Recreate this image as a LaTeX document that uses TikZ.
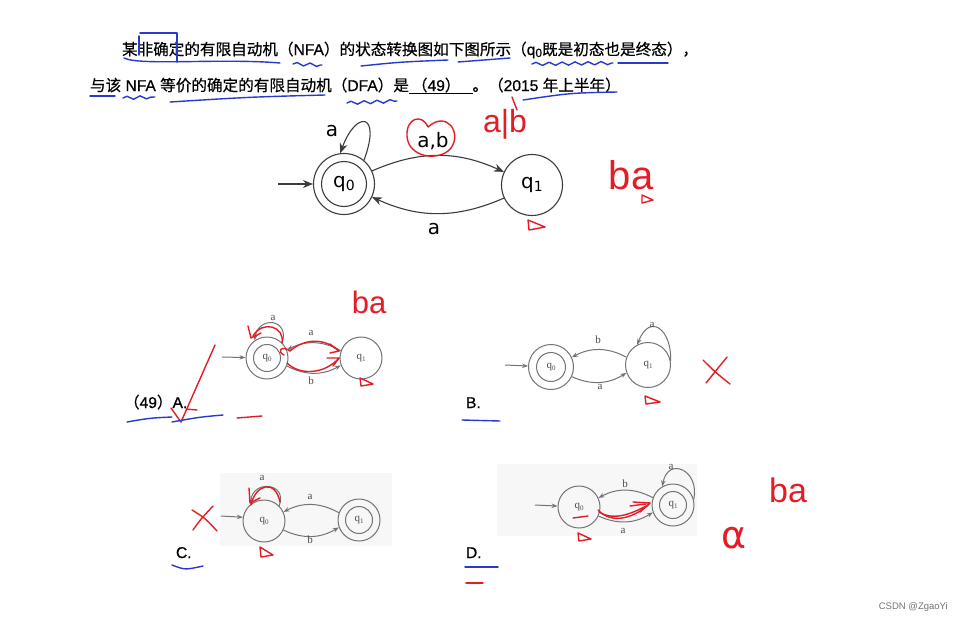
\documentclass[tikz,border=0pt]{standalone}
\usepackage{fontspec}
\setmainfont{Liberation Serif}
\newfontfamily\cjkf[FakeBold=0.6]{Noto Sans CJK SC}
\newfontfamily\dvs{DejaVu Sans}
\newfontfamily\lsans{Liberation Sans}
\newfontfamily\lsansb[FakeBold=0.6]{Liberation Sans}
\usetikzlibrary{arrows.meta,calc,decorations.pathmorphing}
\definecolor{pen}{RGB}{228,28,38}
\definecolor{ink}{RGB}{40,58,205}
\definecolor{mainline}{RGB}{60,60,60}
\definecolor{optline}{RGB}{115,115,115}
\newcommand{\mq}[1]{q\raisebox{-3pt}{\fontsize{14}{14}\selectfont #1}}
\newcommand{\oqq}[1]{q\raisebox{-2pt}{\fontsize{7}{7}\selectfont #1}}
\newcommand{\lat}[1]{{\lsansb #1}}
\newcommand{\blankul}[1]{\setbox0\hbox{#1}\rlap{\rule[-3pt]{\wd0}{1.2pt}}\box0}
\begin{document}
\begin{tikzpicture}[x=1pt,y=-1pt,
  cjk/.style={font=\cjkf\fontsize{15.6}{18}\selectfont, inner sep=0pt, outer sep=0pt, anchor=base west},
  mstate/.style={circle, draw=mainline, line width=1.1pt, minimum size=61pt, inner sep=0pt, font=\dvs\fontsize{20}{24}\selectfont},
  minner/.style={circle, draw=mainline, line width=1.1pt, minimum size=45pt, inner sep=0pt},
  marr/.style={draw=mainline, line width=1.1pt, -{Stealth[length=10pt,width=8pt]}},
  mlab/.style={font=\dvs\fontsize{20}{24}\selectfont, inner sep=0pt},
  ostate/.style={circle, draw=optline, line width=1pt, minimum size=42pt, inner sep=0pt, font=\fontsize{11}{12}\selectfont, text=black!70},
  oinner/.style={circle, draw=optline, line width=1pt, minimum size=27pt, inner sep=0pt},
  oarr/.style={draw=optline, line width=1pt, -{Stealth[length=6pt,width=4.5pt]}},
  olab/.style={font=\fontsize{11}{12}\selectfont, inner sep=0pt, text=black!70},
  redpen/.style={draw=pen, line width=1.4pt, line cap=round, line join=round},
  bluepen/.style={draw=ink, line width=1.4pt, line cap=round, line join=round},
  redtxt/.style={text=pen, inner sep=0pt, font=\lsans\fontsize{28}{30}\selectfont},
  wave/.style={decorate, decoration={snake, amplitude=1.6pt, segment length=13pt}},
]
\useasboundingbox (0,0) rectangle (963,624);
\fill[white] (0,0) rectangle (963,624);

% ---------- question text ----------
\node[cjk] (s1) at (122,55) {某非确定的有限自动机（\lat{NFA}）的状态转换图如下图所示（\lat{q\raisebox{-2pt}{\fontsize{12}{12}\selectfont 0}}既是初态也是终态），};
\node[cjk] (t1) at (90,91) {与该\lat{ NFA }等价的确定的有限自动机（\lat{DFA}）是\blankul{\hspace{3pt}（\lat{49}）\hspace{12pt}}。（\lat{2015 }年上半年）};

% blue marks on the text
\draw[bluepen] (139,36) -- (139,55);
\draw[bluepen] (140,33) -- (177,33) -- (177,62);
\draw[bluepen] (124,58) .. controls (140,66) and (220,58) .. (280,63);
\draw[bluepen,wave] (293,64) -- (322,65);
\draw[bluepen] (361,66) .. controls (400,62) .. (448,60);
\draw[bluepen] (458,62) -- (510,58);
\draw[bluepen,wave] (532,64) -- (613,63);
\draw[bluepen] (618,63) -- (668,63);
\draw[bluepen] (90,96) -- (115,96);
\draw[bluepen,wave] (123,98) -- (155,97);
\draw[bluepen] (170,102) .. controls (250,97) .. (325,95);
\draw[bluepen,wave] (347,103) -- (397,101);
\draw[bluepen] (523,100) .. controls (570,93) .. (617,92);
\draw[redpen] (512,97) -- (517,110);

% ---------- main NFA ----------
\node[mstate] (Q0) at (344,184) {\mq{0}};
\node[minner] (Q0i) at (Q0) {};
\node[mstate] (Q1) at (532,185) {\mq{1}};
\coordinate (Qs) at (278,184);
\draw[marr] (Qs) -- (Q0);
\draw[marr] (Q0.50) .. controls (382,112) and (356,110) .. (Q0.97);
\draw[marr] (Q0.25) to[bend left=24] (Q1.155);
\draw[marr] (Q1.205) to[bend left=24] (Q0.-25);
\node[mlab] (La) at (332,131) {a};
\node[mlab] (Lab) at (433,141) {a,b};
\node[mlab] (Lb) at (434,229) {a};
% red marks on the NFA
\draw[redpen] (428,127) .. controls (422,113) and (406,118) .. (407,136) .. controls (408,158) and (440,162) .. (451,148) .. controls (462,133) and (447,110) .. (428,127);
\node[redtxt,font=\lsans\fontsize{32}{34}\selectfont] (h1) at (505,124) {a|b};
\node[redtxt,font=\lsans\fontsize{40}{42}\selectfont] (h2) at (631,175) {ba};
\draw[redpen] (642,195) -- (642,203) -- (653,200) -- cycle;
\draw[redpen] (528,220) -- (529,230) -- (545,227) -- cycle;

% ---------- option A ----------
\node[cjk] (oA) at (124,408) {（\lat{49}）\lat{A.}};
\node[ostate] (A0) at (267,358) {\oqq{0}};
\node[oinner] (A0i) at (A0) {};
\node[ostate] (A1) at (361,358) {\oqq{1}};
\coordinate (As) at (222,357);
\draw[oarr] (As) -- (A0);
\draw[oarr] (A0.45) .. controls (290,318) and (258,316) .. (A0.125);
\draw[oarr] (A1.160) to[bend right=28] (A0.22);
\draw[oarr] (A0.-22) to[bend right=28] (A1.200);
\node[olab] (Aa) at (273,318) {a};
\node[olab] (Ab) at (311,333) {a};
\node[olab] (Ac) at (311,381) {b};
\node[redtxt,font=\lsans\fontsize{31}{33}\selectfont] (h3) at (369,302) {ba};
\draw[redpen] (282,343) .. controls (285,326) and (262,320) .. (253,336);
\draw[redpen] (248,326) -- (251,338) -- (261,333);
\draw[redpen] (284,355) .. controls (276,351) and (282,345) .. (290,351) .. controls (305,338) and (325,338) .. (339,351);
\draw[redpen] (330,344) -- (339,351) -- (330,353);
\draw[redpen] (287,363) .. controls (300,376) and (325,374) .. (339,358);
\draw[redpen] (327,358) -- (339,358) -- (333,366);
\draw[redpen] (360,378) -- (361,386) -- (373,384) -- cycle;
\draw[redpen] (215,345) -- (181,422) -- (171,408);
\draw[redpen] (186,409) -- (197,410);
\draw[redpen] (237,418) -- (262,416);
\draw[bluepen] (127,422) .. controls (150,418) .. (172,417);
\draw[bluepen] (172,422) .. controls (200,417) .. (223,415);

% ---------- option B ----------
\node[cjk] (oB) at (466,408) {\lat{B.}};
\node[ostate,minimum size=45pt] (B0) at (551,367) {\oqq{0}};
\node[oinner,minimum size=29pt] (B0i) at (B0) {};
\node[ostate,minimum size=45pt] (B1) at (648,365) {\oqq{1}};
\coordinate (Bs) at (505,365);
\draw[oarr] (Bs) -- (B0);
\draw[oarr] (B1.10) .. controls (672,330) and (650,312) .. (B1.118);
\draw[oarr] (B1.160) to[bend right=28] (B0.25);
\draw[oarr] (B0.-25) to[bend right=28] (B1.200);
\node[olab] (Ba) at (652,325) {a};
\node[olab] (Bb) at (598,340) {b};
\node[olab] (Bc) at (600,387) {a};
\draw[redpen] (703,360) .. controls (715,372) .. (730,384);
\draw[redpen] (727,357) .. controls (716,370) .. (706,383);
\draw[redpen] (645,396) -- (646,404) -- (660,402) -- cycle;
\draw[bluepen] (462,420) -- (500,421);

% ---------- option C ----------
\fill[black!3] (220,473) rectangle (392,546);
\node[cjk] (oC) at (176,558) {\lat{C.}};
\node[ostate] (C0) at (264,521) {\oqq{0}};
\node[ostate] (C1) at (359,520) {\oqq{1}};
\node[oinner] (C1i) at (C1) {};
\coordinate (Cs) at (221,516);
\draw[oarr] (Cs) -- (C0.170);
\draw[oarr] (C0.45) .. controls (288,482) and (252,480) .. (C0.128);
\draw[oarr] (C1.160) to[bend right=28] (C0.25);
\draw[oarr] (C0.-25) to[bend right=28] (C1.200);
\node[olab] (Ca) at (262,478) {a};
\node[olab] (Cb) at (310,497) {a};
\node[olab] (Cc) at (310,540) {b};
\draw[redpen] (251,505) .. controls (255,485) and (275,478) .. (280,502);
\draw[redpen] (249,488) -- (250,503) -- (260,498);
\draw[redpen] (192,510) .. controls (205,518) .. (217,531);
\draw[redpen] (213,506) .. controls (200,520) .. (193,530);
\draw[redpen] (260,547) -- (261,557) -- (273,555) -- cycle;
\draw[bluepen] (172,565) .. controls (185,570) .. (203,566);

% ---------- option D ----------
\fill[black!3] (497,464) rectangle (697,536);
\node[cjk] (oD) at (466,558) {\lat{D.}};
\node[ostate] (D0) at (579,507) {\oqq{0}};
\node[ostate] (D1) at (673,505) {\oqq{1}};
\node[oinner] (D1i) at (D1) {};
\coordinate (Ds) at (535,505);
\draw[oarr] (Ds) -- (D0);
\draw[oarr] (D1.15) .. controls (700,470) and (668,456) .. (D1.120);
\draw[oarr] (D1.160) to[bend right=28] (D0.25);
\draw[oarr] (D0.-25) to[bend right=28] (D1.200);
\node[olab] (Da) at (671,467) {a};
\node[olab] (Db) at (625,484) {b};
\node[olab] (Dc) at (623,531) {a};
\draw[redpen] (573,518) -- (588,516);
\draw[redpen] (578,533) -- (579,541) -- (591,539) -- cycle;
\draw[redpen] (598,510) .. controls (612,525) and (635,518) .. (650,503);
\draw[redpen] (599,512) .. controls (615,522) and (635,512) .. (648,505);
\draw[redpen] (633,502) -- (650,503) -- (640,512);
\draw[redpen] (630,506) -- (646,504);
\node[redtxt,font=\dvs\fontsize{38}{40}\selectfont] (h4) at (734,538) {α};
\node[redtxt,font=\lsans\fontsize{34}{36}\selectfont] (h5) at (788,490) {ba};
\draw[bluepen] (465,567) -- (498,567);
\draw[redpen] (466,583) -- (483,583);

% ---------- watermark ----------
\node[inner sep=0pt, text=black!55, font=\lsans\fontsize{9.5}{11}\selectfont, anchor=east] (wm) at (948,607) {CSDN @ZgaoYi};
\end{tikzpicture}
\end{document}
